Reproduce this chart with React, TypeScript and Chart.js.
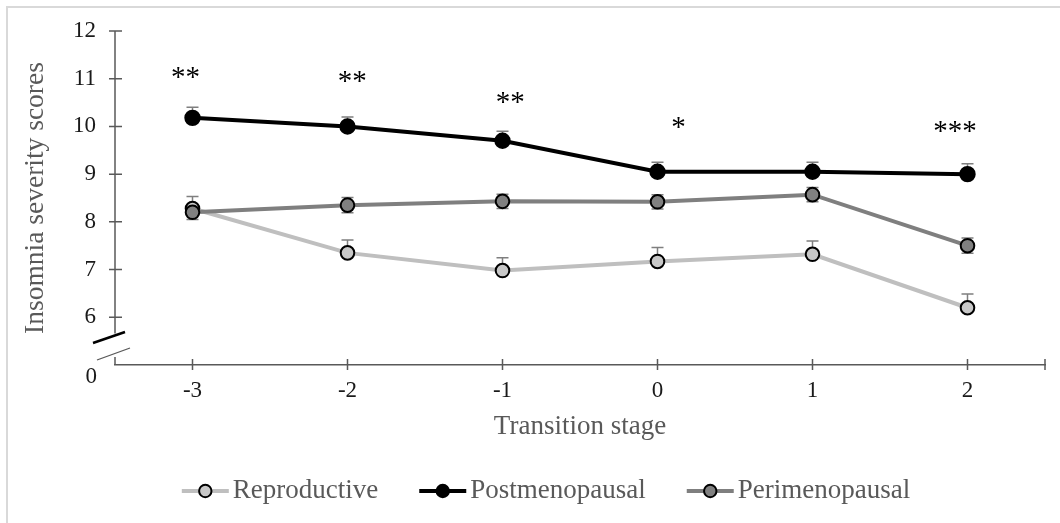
import React, { useEffect, useRef } from 'react';
import { Chart, registerables } from 'chart.js';

Chart.register(...registerables);

const FONT = "'Liberation Serif', 'Times New Roman', serif";

// ---- data ----
const stages = [-3, -2, -1, 0, 1, 2];
const stageLabels = ['-3', '-2', '-1', '0', '1', '2'];
const seriesNames = ['Reproductive', 'Postmenopausal', 'Perimenopausal'];

const reproductive = [8.28, 7.35, 6.98, 7.17, 7.32, 6.2];
const postmenopausal = [10.18, 10.0, 9.7, 9.05, 9.05, 9.0];
const perimenopausal = [8.2, 8.35, 8.43, 8.42, 8.57, 7.5];

const reproductiveErr = [0.25, 0.27, 0.27, 0.29, 0.28, 0.29];
const postmenopausalErr = [0.22, 0.2, 0.2, 0.2, 0.2, 0.22];
const perimenopausalErr = [0.15, 0.16, 0.15, 0.15, 0.15, 0.16];

const yTickValues = [5, 6, 7, 8, 9, 10, 11, 12];
const yTickLabels = ['0', '6', '7', '8', '9', '10', '11', '12'];

const sigLabels = ['**', '**', '**', '*', '***'];
const sigX = [-3.045, -1.97, -0.95, 0.135, 1.92];
const sigY = [11.12, 11.02, 10.58, 10.07, 9.97];

const lineColors = ['#bfbfbf', '#000000', '#7f7f7f'];
const fillColors = ['#c8c8c8', '#000000', '#808080'];

export default function App() {
  const ref = useRef<HTMLCanvasElement>(null);

  useEffect(() => {
    const canvas = ref.current;
    if (!canvas) return;

    const seriesValues = [reproductive, postmenopausal, perimenopausal];
    const seriesErr = [reproductiveErr, postmenopausalErr, perimenopausalErr];
    const twoSided = [false, false, true];

    const decor = {
      id: 'decor',
      beforeDraw(chart: any) {
        const ctx = chart.ctx;
        ctx.save();
        ctx.strokeStyle = '#d9d9d9';
        ctx.lineWidth = 2;
        ctx.beginPath();
        ctx.moveTo(7, 600);
        ctx.lineTo(7, 7);
        ctx.lineTo(1100, 7);
        ctx.stroke();
        ctx.restore();
      },
      beforeDatasetsDraw(chart: any) {
        const ctx = chart.ctx;
        const xs = chart.scales.x;
        const ys = chart.scales.y;
        ctx.save();
        ctx.strokeStyle = '#7f7f7f';
        ctx.lineWidth = 1.5;
        seriesValues.forEach((vals, si) => {
          vals.forEach((v, i) => {
            const px = xs.getPixelForValue(stages[i]);
            const e = seriesErr[si][i];
            const top = ys.getPixelForValue(v + e);
            const bot = twoSided[si] ? ys.getPixelForValue(v - e) : ys.getPixelForValue(v);
            ctx.beginPath();
            ctx.moveTo(px, top);
            ctx.lineTo(px, bot);
            ctx.moveTo(px - 6, top);
            ctx.lineTo(px + 6, top);
            if (twoSided[si]) {
              ctx.moveTo(px - 6, bot);
              ctx.lineTo(px + 6, bot);
            }
            ctx.stroke();
          });
        });
        ctx.restore();
      },
      afterDraw(chart: any) {
        const ctx = chart.ctx;
        const xs = chart.scales.x;
        const ys = chart.scales.y;
        const ax = chart.chartArea.left;
        const y0 = ys.getPixelForValue(5);
        ctx.save();
        // y axis with break
        ctx.strokeStyle = '#595959';
        ctx.lineWidth = 1.5;
        ctx.beginPath();
        ctx.moveTo(ax, ys.getPixelForValue(12));
        ctx.lineTo(ax, ys.getPixelForValue(5.66));
        ctx.moveTo(ax, ys.getPixelForValue(5.17));
        ctx.lineTo(ax, y0);
        // y ticks
        yTickValues.forEach((v) => {
          if (v === 5) return;
          const py = ys.getPixelForValue(v);
          ctx.moveTo(ax - 6, py);
          ctx.lineTo(ax + 7, py);
        });
        // x ticks
        [...stages, 2.5].forEach((v) => {
          const px = xs.getPixelForValue(v);
          ctx.moveTo(px, y0 - 6);
          ctx.lineTo(px, y0 + 5);
        });
        ctx.stroke();
        // break marks
        ctx.strokeStyle = '#000';
        ctx.lineWidth = 2.5;
        ctx.beginPath();
        ctx.moveTo(ax - 22, y0 - 22);
        ctx.lineTo(ax + 10, y0 - 33);
        ctx.stroke();
        ctx.strokeStyle = '#595959';
        ctx.lineWidth = 1.3;
        ctx.beginPath();
        ctx.moveTo(ax - 18, y0 - 5);
        ctx.lineTo(ax + 15, y0 - 17);
        ctx.stroke();
        // "0" label at the break
        ctx.fillStyle = '#1a1a1a';
        ctx.font = `23px ${FONT}`;
        ctx.textAlign = 'right';
        ctx.textBaseline = 'middle';
        ctx.fillText(yTickLabels[0], ax - 18, y0 + 12);
        // significance asterisks
        ctx.fillStyle = '#000';
        ctx.font = `29px ${FONT}`;
        ctx.textAlign = 'center';
        ctx.textBaseline = 'middle';
        sigLabels.forEach((s, i) => {
          ctx.fillText(s, xs.getPixelForValue(sigX[i]), ys.getPixelForValue(sigY[i]) + 5);
        });
        // legend
        ctx.font = `27px ${FONT}`;
        ctx.textAlign = 'left';
        ctx.textBaseline = 'middle';
        const ly = 491;
        const symW = 47;
        const gap1 = 4;
        const gap2 = 41;
        const widths = seriesNames.map((n) => ctx.measureText(n).width);
        const total = widths.reduce((a, b) => a + b, 0) + 3 * (symW + gap1) + 2 * gap2;
        let lx = 546 - total / 2;
        seriesNames.forEach((n, i) => {
          ctx.strokeStyle = lineColors[i];
          ctx.lineWidth = 4;
          ctx.beginPath();
          ctx.moveTo(lx, ly);
          ctx.lineTo(lx + symW, ly);
          ctx.stroke();
          ctx.beginPath();
          ctx.arc(lx + symW / 2, ly, 6.2, 0, Math.PI * 2);
          ctx.fillStyle = fillColors[i];
          ctx.fill();
          ctx.strokeStyle = '#000';
          ctx.lineWidth = 2;
          ctx.stroke();
          ctx.fillStyle = '#595959';
          ctx.fillText(n, lx + symW + gap1, ly);
          lx += symW + gap1 + widths[i] + gap2;
        });
        ctx.restore();
      },
    };

    const mk = (i: number, vals: number[], order: number, radius: number) => ({
      label: seriesNames[i],
      data: stages.map((s, k) => ({ x: s, y: vals[k] })),
      borderColor: lineColors[i],
      borderWidth: 4,
      pointBackgroundColor: fillColors[i],
      pointBorderColor: '#000',
      pointBorderWidth: 2,
      pointRadius: radius,
      tension: 0,
      order,
    });

    const chart = new Chart(canvas, {
      type: 'line',
      data: {
        datasets: [
          mk(0, reproductive, 2, 6.8),
          mk(1, postmenopausal, 1, 7.2),
          mk(2, perimenopausal, 0, 6.8),
        ],
      },
      options: {
        responsive: false,
        animation: false,
        devicePixelRatio: 1,
        layout: { padding: { left: 0, top: 31, right: 15, bottom: 78 } },
        plugins: { legend: { display: false }, tooltip: { enabled: false } },
        scales: {
          x: {
            type: 'linear',
            min: -3.5,
            max: 2.5,
            afterBuildTicks: (s: any) => {
              s.ticks = stages.map((v) => ({ value: v }));
            },
            afterFit: (s: any) => {
              s.height = 80;
              s.paddingLeft = 0;
              s.paddingRight = 0;
            },
            grid: { display: false, drawTicks: false },
            border: { display: true, color: '#595959', width: 1.5 },
            ticks: {
              padding: 12,
              color: '#1a1a1a',
              font: { family: FONT, size: 23 },
              maxRotation: 0,
              autoSkip: false,
              callback: (v: any) => stageLabels[stages.indexOf(Number(v))] ?? '',
            },
            title: {
              display: true,
              text: 'Transition stage',
              color: '#595959',
              font: { family: FONT, size: 27 },
              padding: { top: 0, bottom: 2 },
            },
          },
          y: {
            type: 'linear',
            min: 5,
            max: 12,
            afterBuildTicks: (s: any) => {
              s.ticks = yTickValues.map((v) => ({ value: v }));
            },
            afterFit: (s: any) => {
              s.width = 115;
              s.paddingTop = 0;
              s.paddingBottom = 0;
            },
            grid: { display: false, drawTicks: false },
            border: { display: false },
            ticks: {
              padding: 19,
              color: '#1a1a1a',
              font: { family: FONT, size: 23 },
              autoSkip: false,
              callback: (v: any) => {
                const n = Number(v);
                if (n === 5) return '';
                return yTickLabels[yTickValues.indexOf(n)] ?? '';
              },
            },
            title: {
              display: true,
              text: 'Insomnia severity scores',
              color: '#595959',
              font: { family: FONT, size: 27.5 },
              padding: { top: 19, bottom: 0 },
            },
          },
        },
      },
      plugins: [decor],
    } as any);

    return () => chart.destroy();
  }, []);

  return (
    <div style={{ position: 'fixed', left: 0, top: 0, width: 1060, height: 523, background: '#fff' }}>
      <canvas ref={ref} width={1060} height={523} style={{ display: 'block', width: 1060, height: 523 }} />
    </div>
  );
}
